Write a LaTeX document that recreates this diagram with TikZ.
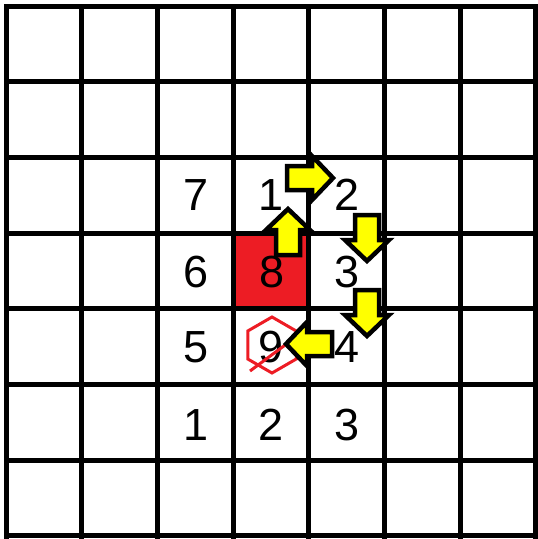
\documentclass[tikz,border=0pt]{standalone}
\usepackage{fontspec}
\setmainfont{Liberation Sans}
\definecolor{pred}{HTML}{ED1C24}
\definecolor{pyel}{HTML}{FFFF00}
\begin{document}
\begin{tikzpicture}[x=1pt,y=-1pt,
  gridline/.style={line width=5pt, black, line cap=rect},
  digit/.style={font=\fontsize{45}{52}\selectfont, inner sep=0pt},
  blockarrow/.style={draw=black, fill=pyel, line width=4.5pt, line join=miter},
  redline/.style={draw=pred, line width=3pt},
  barrow/.pic={\path[blockarrow] (0,-12) -- (25,-12) -- (25,-22) -- (46,0) -- (25,22) -- (25,12) -- (0,12) -- cycle;}
]
\useasboundingbox (0,0) rectangle (538,539);
% red cell
\fill[pred] (233,233) rectangle (309,309);
% grid
\foreach \i in {0,...,7}{
  \draw[gridline] ({6+75.7*\i},6) -- ({6+75.7*\i},536);
  \draw[gridline] (6,{6+75.7*\i}) -- (536,{6+75.7*\i});
}
% digits
\node[digit] (a7) at (196,195) {7};
\node[digit] (a1) at (271,195) {1};
\node[digit] (a2) at (347,195) {2};
\node[digit] (b6) at (196,272) {6};
\node[digit] (b8) at (272,272) {8};
\node[digit] (b3) at (347,272) {3};
\node[digit] (c5) at (196,347) {5};
\node[digit] (c9) at (271,347) {9};
\node[digit] (c4) at (347,347) {4};
\node[digit] (d1) at (196,425) {1};
\node[digit] (d2) at (271,425) {2};
\node[digit] (d3) at (347,425) {3};
% hexagon and strike
\coordinate (hx) at (272,345);
\draw[redline] (hx) +(90:28) -- +(150:28) -- +(210:28) -- +(270:28) -- +(330:28) -- +(30:28) -- cycle;
\coordinate (s1) at (250,371);
\coordinate (s2) at (300,334);
\draw[redline] (s1) -- (s2);
% arrows
\pic (arR) at (287,178) {barrow};
\pic[rotate=90] (arU) at (288,255) {barrow};
\pic[rotate=-90] (arD1) at (367,215) {barrow};
\pic[rotate=-90] (arD2) at (367,290) {barrow};
\pic[rotate=180] (arL) at (332,344) {barrow};
\end{tikzpicture}
\end{document}
